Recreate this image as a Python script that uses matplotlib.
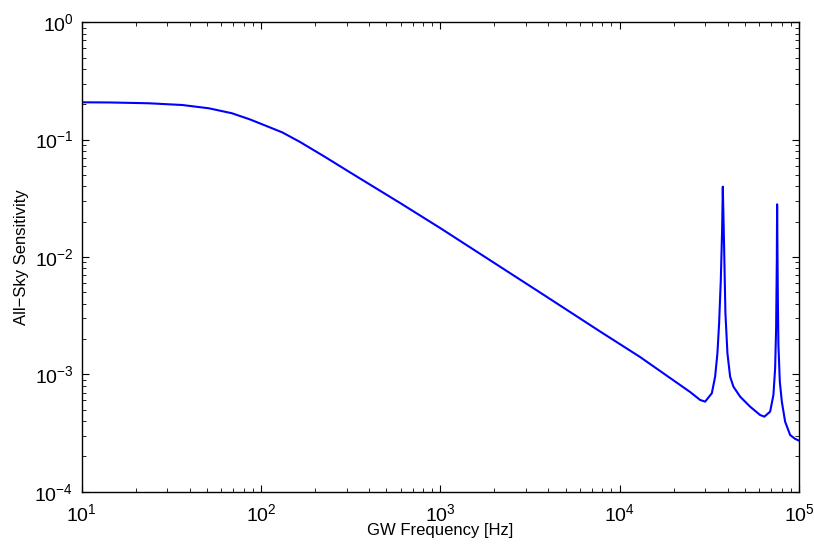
import matplotlib
matplotlib.use("Agg")
import matplotlib.pyplot as plt
from matplotlib.ticker import LogLocator, NullFormatter

plt.rcParams['font.family'] = ['Liberation Sans', 'DejaVu Sans']
plt.rcParams['mathtext.fontset'] = 'custom'
plt.rcParams['mathtext.rm'] = 'Liberation Sans'
plt.rcParams['mathtext.it'] = 'Liberation Sans:italic'
plt.rcParams['mathtext.bf'] = 'Liberation Sans:bold'

# GW frequency [Hz]
freq_hz = [10, 14.38, 23.64, 36.3, 51.1, 68.9, 86.9, 131, 165, 227.5, 314,
           596, 996, 3597, 7775, 12990, 24700, 28080, 29950, 32640, 34050,
           35070, 35840, 36630, 37250, 37580, 38210, 38860, 39870, 41280,
           43070, 46950, 53380, 60680, 64120, 69020, 71980, 73580, 74520,
           75190, 75480, 76160, 76750, 78140, 80190, 83650, 89210, 95120,
           100000]
# All-sky sensitivity
sensitivity = [0.208, 0.2073, 0.2041, 0.1973, 0.1850, 0.1677, 0.1485, 0.1155,
               0.0955, 0.0712, 0.0525, 0.02885, 0.01767, 0.00498, 0.002318,
               0.001405, 0.000707, 0.000605, 0.000585, 0.000690, 0.000955,
               0.001511, 0.002723, 0.00637, 0.01699, 0.0397, 0.01224,
               0.003333, 0.001520, 0.000955, 0.000785, 0.000645, 0.000530,
               0.000450, 0.000436, 0.000481, 0.000667, 0.001126, 0.002483,
               0.00912, 0.0281, 0.00474, 0.001779, 0.000866, 0.000585,
               0.000395, 0.000304, 0.000282, 0.000272]

fig = plt.figure(figsize=(8.14, 5.46), dpi=100)
ax = fig.add_axes([0.1004, 0.0995, 0.8812, 0.8597])
ax.plot(freq_hz, sensitivity, color='#0000ff', linewidth=1.5)
ax.set_xscale('log')
ax.set_yscale('log')
ax.set_xlim(10, 1e5)
ax.set_ylim(1e-4, 1)

ax.xaxis.set_major_locator(LogLocator(base=10, numticks=10))
ax.yaxis.set_major_locator(LogLocator(base=10, numticks=10))
ax.xaxis.set_minor_locator(LogLocator(base=10, subs=range(2, 10), numticks=20))
ax.yaxis.set_minor_locator(LogLocator(base=10, subs=range(2, 10), numticks=20))
ax.xaxis.set_minor_formatter(NullFormatter())
ax.yaxis.set_minor_formatter(NullFormatter())

ax.tick_params(which='both', direction='in', top=True, right=True,
               labelsize=14, colors='black')
ax.tick_params(which='major', length=5, width=0.8)
ax.tick_params(axis='x', which='major', pad=8)
ax.tick_params(axis='y', which='major', pad=6)
ax.tick_params(which='minor', length=3, width=0.6)
for s in ax.spines.values():
    s.set_linewidth(1.0)

ax.set_xlabel('GW Frequency [Hz]', fontsize=12, labelpad=-1)
ax.set_ylabel('All\u2212Sky Sensitivity', fontsize=12, labelpad=4)

fig.savefig('out.png', dpi=100, facecolor='white')
